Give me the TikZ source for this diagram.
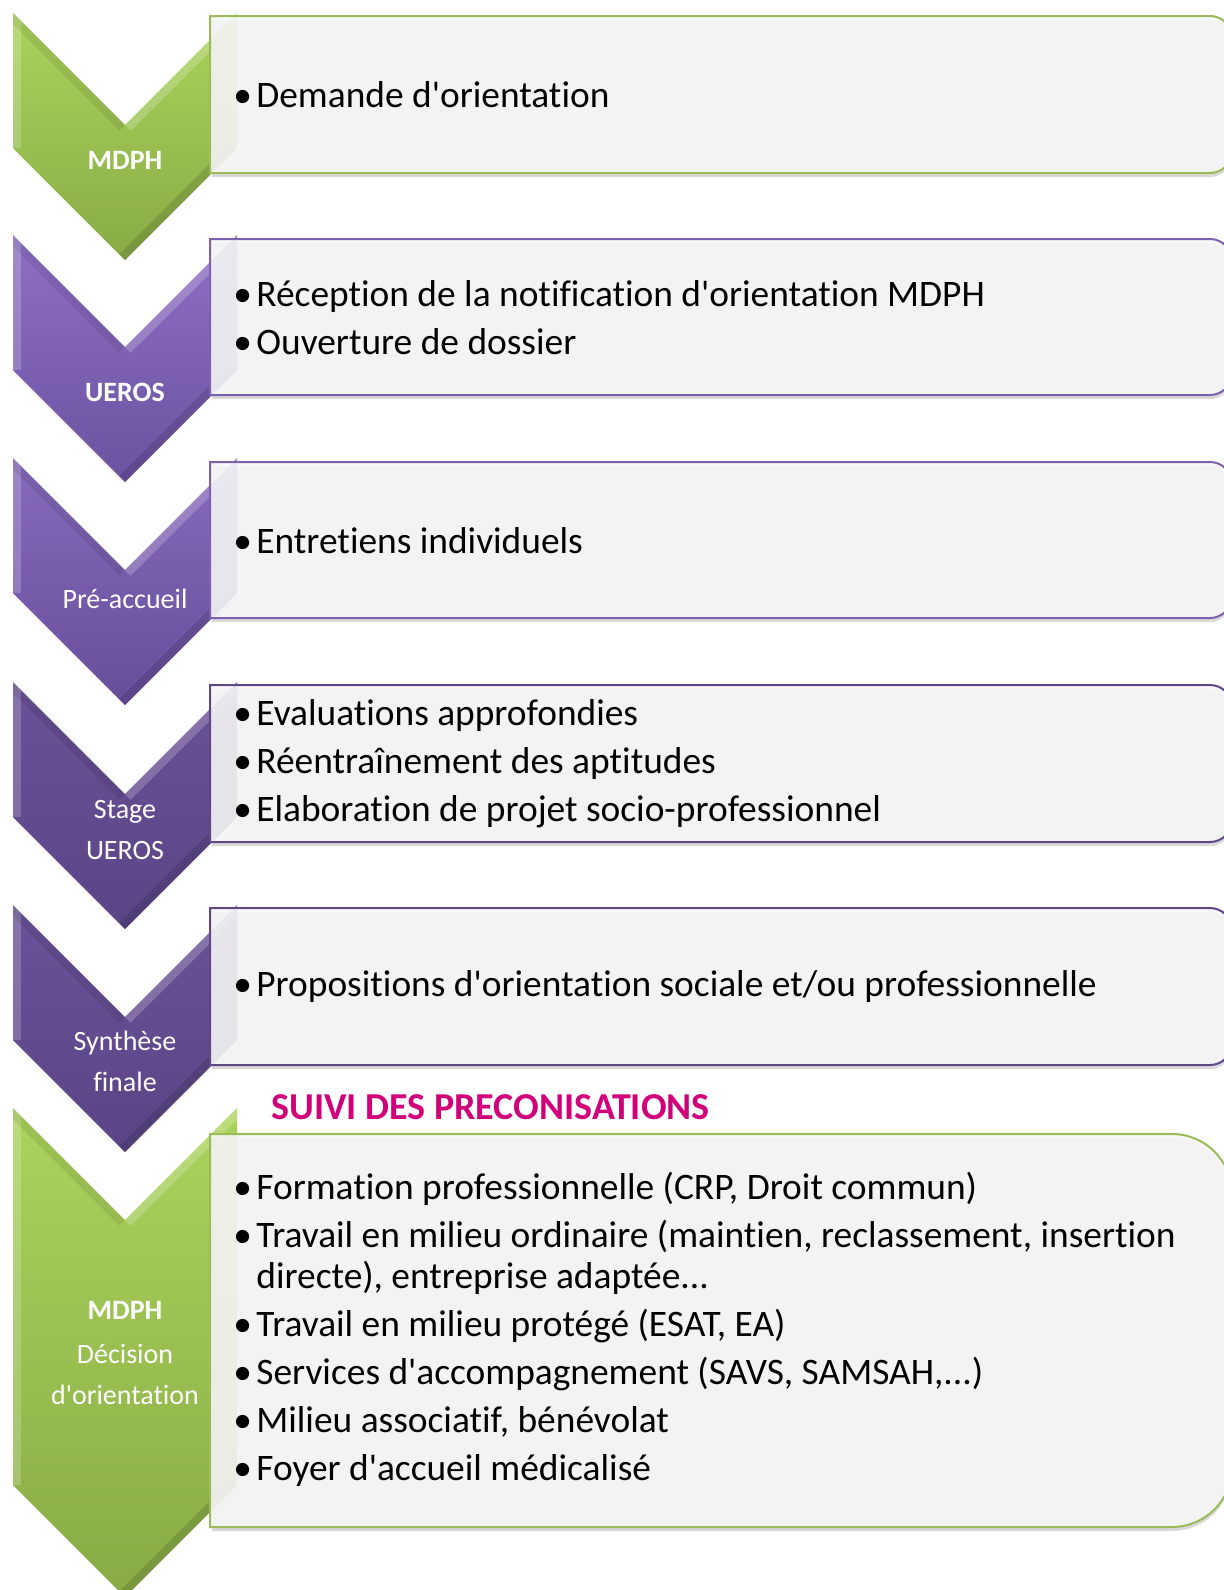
\documentclass[tikz,border=0pt]{standalone}
\usepackage{fontspec}
\setmainfont{Carlito}[Ligatures={TeXOff,CommonOff}]

\definecolor{vertA}{HTML}{ABD35C}
\definecolor{vertB}{HTML}{88AB46}
\definecolor{vertbord}{HTML}{9BBB59}
\definecolor{violA}{HTML}{8E6FC5}
\definecolor{violB}{HTML}{6C52A0}
\definecolor{violC}{HTML}{876ABD}
\definecolor{violD}{HTML}{674E9A}
\definecolor{violE}{HTML}{6A5297}
\definecolor{violF}{HTML}{5B4486}
\definecolor{violbord}{HTML}{7B61AE}
\definecolor{violfonce}{HTML}{5F4889}
\definecolor{rose}{HTML}{D1007A}

\newcommand{\chevron}[4]{%
  \path[top color=#3, bottom color=#4] (13,#1) -- (125,#1+112) -- (237,#1) -- (237,#1+#2) -- (125,#1+#2+112) -- (13,#1+#2) -- cycle;
  \begin{scope}
    \clip (13,#1) -- (125,#1+112) -- (237,#1) -- (237,#1+#2) -- (125,#1+#2+112) -- (13,#1+#2) -- cycle;
    \draw[white, opacity=.2, line width=8pt] (13,#1+#2) -- (13,#1);
    \draw[white, opacity=.2, line width=8pt] (125,#1+112) -- (237,#1);
    \draw[black, opacity=.08, line width=8pt] (13,#1) -- (125,#1+112);
    \draw[black, opacity=.12, line width=8pt] (125,#1+#2+112) -- (237,#1+#2);
  \end{scope}}

\newcommand{\cadre}[4]{%
  \fill[black, opacity=.15] (212,#1+4) -- (1232-#3,#1+4) arc[start angle=-90, end angle=0, radius=#3] -- (1232,#2+4-#3) arc[start angle=0, end angle=90, radius=#3] -- (212,#2+4) -- cycle;
  \path[draw=#4, line width=1pt, fill=black!3, fill opacity=.9] (210,#1) -- (1232-#3,#1) arc[start angle=-90, end angle=0, radius=#3] -- (1232,#2-#3) arc[start angle=0, end angle=90, radius=#3] -- (210,#2) -- cycle;}

\newcommand{\puce}[1]{\par\hangindent=11.5pt\hangafter=1\noindent\makebox[11.5pt][l]{\textbullet}#1}

\tikzset{
  texte/.style={anchor=west, text width=487pt, inner xsep=11.5pt, inner ysep=0pt, align=flush left,
    font=\fontsize{18.7}{20.5}\selectfont,
    execute at begin node=\setlength{\parskip}{3.5pt}},
  etiq/.style={text=white, align=center, font=\fontsize{14}{20.5}\selectfont}
}

\begin{document}
\begin{tikzpicture}[x=0.5pt, y=-0.5pt]
\useasboundingbox (0,0) rectangle (1224,1590);
\clip (0,0) rectangle (1224,1590);

\chevron{13}{135}{vertA}{vertB}
\chevron{235}{135}{violA}{violB}
\chevron{458}{135}{violC}{violD}
\chevron{682}{135}{violE}{violF}
\chevron{905}{135}{violE}{violF}
\chevron{1108}{377}{vertA}{vertB}

\cadre{16}{173}{22}{vertbord}
\cadre{239}{395}{22}{violbord}
\cadre{462}{618}{22}{violbord}
\cadre{685}{842}{22}{violfonce}
\cadre{908}{1065}{22}{violfonce}
\cadre{1134}{1527}{60}{vertbord}

\node[texte] (box1) at (210,84) {\puce{Demande d'orientation}};
\node[texte] (box2) at (210,307) {\puce{Réception de la notification d'orientation MDPH}\puce{Ouverture de dossier}};
\node[texte] (box3) at (210,530) {\puce{Entretiens individuels}};
\node[texte] (box4) at (210,753) {\puce{Evaluations approfondies}\puce{Réentraînement des aptitudes}\puce{Elaboration de projet socio-professionnel}};
\node[texte] (box5) at (210,976) {\puce{Propositions d'orientation sociale et/ou professionnelle}};
\node[texte] (box6) at (210,1319) {\puce{Formation professionnelle (CRP, Droit commun)}\puce{Travail en milieu ordinaire (maintien, reclassement, insertion\newline directe), entreprise adaptée...}\puce{Travail en milieu protégé (ESAT, EA)}\puce{Services d'accompagnement (SAVS, SAMSAH,...)}\puce{Milieu associatif, bénévolat}\puce{Foyer d'accueil médicalisé}};

\node[etiq, font=\fontsize{14}{20.5}\selectfont\bfseries] (lab1) at (125,160) {MDPH};
\node[etiq, font=\fontsize{14}{20.5}\selectfont\bfseries] (lab2) at (125,392) {UEROS};
\node[etiq] (lab3) at (125,599) {Pré-accueil};
\node[etiq] (lab4) at (125,830) {Stage\\UEROS};
\node[etiq] (lab5) at (125,1061) {Synthèse\\finale};
\node[etiq] (lab6) at (125,1353) {\textbf{MDPH}\\[1.5pt]Décision\\d'orientation};

\node[anchor=west, text=rose, font=\fontsize{19}{22}\selectfont\bfseries, inner sep=0pt] (titre) at (271,1107) {SUIVI DES PRECONISATIONS};

\end{tikzpicture}
\end{document}
